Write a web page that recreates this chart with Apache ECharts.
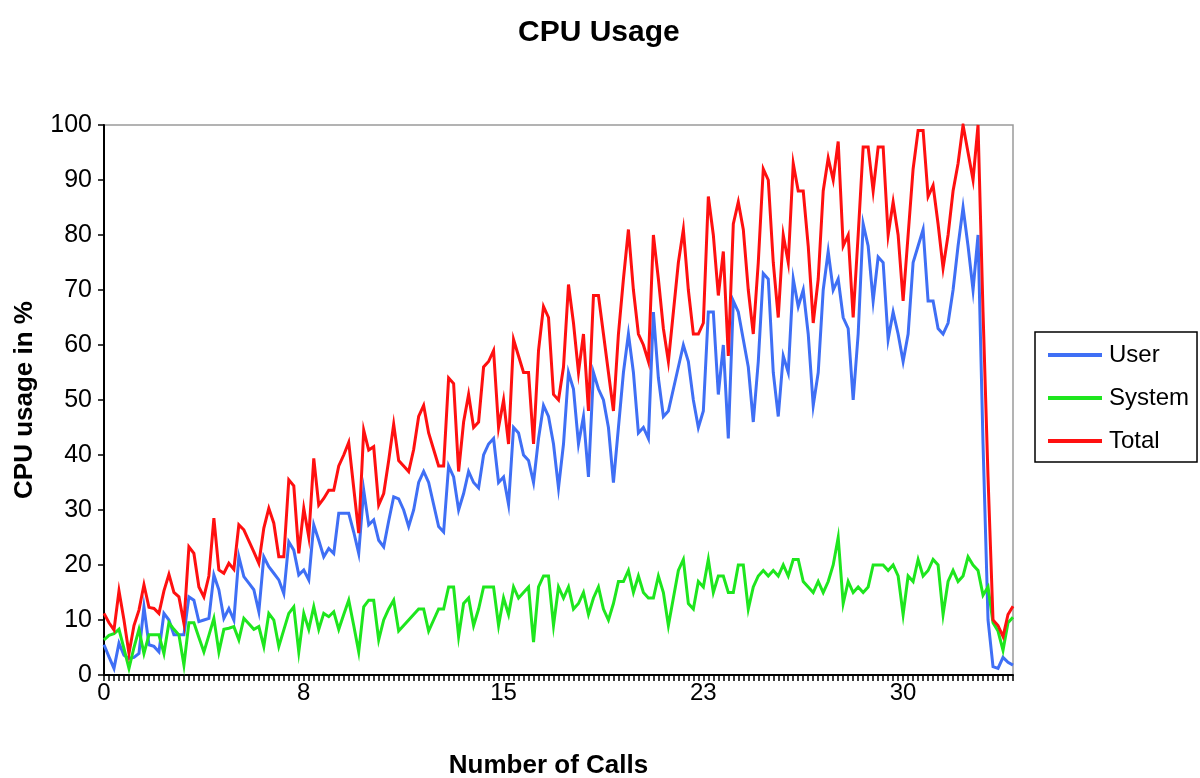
<!DOCTYPE html>
<html>
<head>
<meta charset="utf-8">
<title>CPU Usage</title>
<script src="https://cdn.jsdelivr.net/npm/echarts@6/dist/echarts.min.js"></script>
<style>
  html, body { margin: 0; padding: 0; background: #fff; }
  #chart { width: 1200px; height: 778px; }
</style>
</head>
<body>
<div id="chart"></div>
<script>
// One sample per category slot; labels are shown every 40th slot.
const xTickLabels = ['0', '8', '15', '23', '30'];
const labelStep = 40;

const userPct = [
  5.5, 3.3, 1.2, 5.8, 3.6, 3, 3.2, 3.9, 12.4, 5.5,
  5.2, 4.2, 11.2, 10, 7.3, 7.3, 7.3, 14.2, 13.6, 9.7,
  10, 10.3, 18.2, 15.5, 10.3, 12.1, 10, 21.5, 17.9, 16.7,
  15.5, 11.5, 21.5, 19.7, 18.5, 17.3, 14.8, 24.2, 22.7, 18.2,
  19.1, 17.3, 27.3, 24.5, 21.5, 23, 22.1, 29.4, 29.4, 29.4,
  26, 22.1, 33.6, 27.3, 28.2, 24.5, 23.3, 28, 32.4, 32,
  30, 27, 30, 35, 37, 35, 31, 27, 26, 38,
  36, 30, 33, 37, 35, 34, 40, 42, 43, 35,
  36, 31, 45, 44, 40, 39, 35, 43, 49, 47,
  42, 34, 42, 55, 52, 42, 47, 36, 55, 52,
  50, 45, 35, 45, 55, 62, 55, 44, 45, 43,
  66, 54, 47, 48, 52, 56, 60, 57, 50, 45,
  48, 66, 66, 51, 60, 43, 68, 66, 61, 56,
  46, 57, 73, 72, 55, 47, 58, 55, 72, 67,
  70, 62, 49, 55, 70, 77, 70, 72, 65, 63,
  50, 62, 82, 78, 68, 76, 75, 61, 66, 62,
  57, 62, 75, 78, 81, 68, 68, 63, 62, 64,
  70, 78, 85, 78, 70, 80, 42, 10, 1.5, 1.2,
  3.2, 2.3, 1.8
];

const systemPct = [
  6.4, 7.2, 7.5, 8.3, 4.8, 1.2, 5, 8.3, 3.9, 7.3,
  7.3, 7.3, 3.9, 9.5, 8.3, 7.3, 1.8, 9.5, 9.5, 6.8,
  4.2, 7.2, 10.3, 4.2, 8.3, 8.5, 8.8, 6.4, 10.3, 9.3,
  8.3, 8.8, 5.2, 11.2, 10, 5.2, 8.2, 11.2, 12.4, 4.2,
  11.2, 8.3, 12.4, 8.3, 11.2, 10.6, 11.5, 8.3, 11, 13.6,
  9, 4.2, 12.4, 13.6, 13.6, 6.4, 10, 12, 13.6, 8,
  9, 10, 11, 12, 12, 8, 10, 12, 12, 16,
  16, 7, 13, 14, 9, 12, 16, 16, 16, 9,
  14, 11, 16, 14, 15, 16, 6, 16, 18, 18,
  9, 16, 14, 16, 12, 13, 15, 11, 14, 16,
  12, 10, 13, 17, 17, 19, 15, 18, 15, 14,
  14, 18, 15, 9, 14, 19, 21, 13, 12, 17,
  16, 21, 15, 18, 18, 15, 15, 20, 20, 12,
  16, 18, 19, 18, 19, 18, 20, 18, 21, 21,
  17, 16, 15, 17, 15, 17, 20, 25, 13, 17,
  15, 16, 15, 16, 20, 20, 20, 19, 20, 18,
  11, 18, 17, 21, 18, 19, 21, 20, 11, 17,
  19, 17, 18, 21.5, 20, 19, 14.5, 16, 9.5, 8,
  4.5, 9.5, 10.5
];

const totalPct = [
  11.2, 9.5, 8.2, 15.3, 10, 3.9, 9, 11.8, 16.4, 12.3,
  12.1, 11.2, 15.3, 18.3, 15, 14.2, 9.4, 23.3, 22.1, 16,
  14.2, 18, 28.5, 19.1, 18.5, 20.3, 19.2, 27.3, 26.4, 24.4,
  22.4, 20.3, 26.7, 30.3, 27.6, 21.5, 21.5, 35.5, 34.4, 22.1,
  30.3, 25.1, 39.4, 30.9, 32.1, 33.6, 33.6, 38, 40, 42.3,
  34, 25.8, 44.5, 40.9, 41.5, 30.9, 33, 39, 45.6, 39,
  38, 37, 41, 47, 49, 44, 41, 38, 38, 54,
  53, 37, 46, 51, 45, 46, 56, 57, 59, 45,
  50, 42, 61, 58, 55, 55, 42, 59, 67, 65,
  51, 50, 56, 71, 64, 55, 62, 48, 69, 69,
  62, 55, 48, 62, 72, 81, 70, 62, 60, 57,
  80, 72, 63, 57, 66, 75, 81, 70, 62, 62,
  64, 87, 80, 69, 77, 58, 82, 86, 81, 70,
  62, 75, 92, 90, 75, 65, 80, 75, 93, 88,
  88, 78, 64, 72, 88, 94, 90, 97, 78, 80,
  65, 80, 96, 96, 88, 96, 96, 80, 86, 80,
  68, 80, 92, 99, 99, 87, 89, 82, 74, 80,
  88, 93, 100, 95, 90, 100, 66, 36, 10, 9,
  7, 11, 12.5
];

const categories = userPct.map((_, i) => String(i));

const FONT = '"Liberation Sans", Arial, sans-serif';

const chart = echarts.init(document.getElementById('chart'), null, { renderer: 'canvas' });

function lineSeries(name, data, color) {
  return {
    name: name,
    type: 'line',
    data: data,
    showSymbol: false,
    symbol: 'none',
    lineStyle: { color: color, width: 3, join: 'miter' },
    itemStyle: { color: color },
    emphasis: { disabled: true },
    animation: false
  };
}

chart.setOption({
  animation: false,
  backgroundColor: '#ffffff',
  textStyle: { fontFamily: FONT },
  title: {
    text: 'CPU Usage',
    left: 513,
    top: 13,
    textStyle: { fontFamily: FONT, fontSize: 30, fontWeight: 'bold', color: '#000' }
  },
  legend: {
    orient: 'vertical',
    left: 1035,
    top: 332,
    padding: [11, 8, 9, 13],
    itemGap: 19,
    itemWidth: 54,
    itemHeight: 4,
    icon: 'rect',
    borderColor: '#000',
    borderWidth: 1.5,
    textStyle: { fontFamily: FONT, fontSize: 24, color: '#000', padding: [0, 0, 0, 2] },
    data: ['User', 'System', 'Total']
  },
  grid: {
    left: 104,
    right: 187,
    top: 125,
    bottom: 103,
    show: true,
    borderColor: '#9a9a9a',
    borderWidth: 1.5,
    containLabel: false,
    outerBoundsMode: 'none'
  },
  xAxis: {
    type: 'category',
    data: categories,
    boundaryGap: false,
    name: 'Number of Calls',
    nameLocation: 'middle',
    nameGap: 78,
    nameTextStyle: { fontFamily: FONT, fontSize: 26, fontWeight: 'bold', color: '#000', padding: [0, 20, 0, 0] },
    axisLine: { show: true, onZero: false, lineStyle: { color: '#000', width: 2 } },
    axisTick: { show: true, interval: 0, length: 6, inside: false, lineStyle: { color: '#000', width: 1.5 } },
    axisLabel: {
      interval: (idx) => idx % labelStep === 0 && idx / labelStep < xTickLabels.length,
      formatter: (val, idx) => xTickLabels[Math.round(idx / labelStep)] || '',
      margin: 6,
      fontFamily: FONT,
      fontSize: 24,
      color: '#000'
    },
    splitLine: { show: false }
  },
  yAxis: {
    type: 'value',
    min: 0,
    max: 100,
    interval: 10,
    name: 'CPU usage in %',
    nameLocation: 'middle',
    nameRotate: 90,
    nameGap: 66,
    nameTextStyle: { fontFamily: FONT, fontSize: 26, fontWeight: 'bold', color: '#000' },
    axisLine: { show: true, lineStyle: { color: '#000', width: 2 } },
    axisTick: { show: true, length: 6, inside: false, lineStyle: { color: '#000', width: 1.5 } },
    axisLabel: { margin: 12, fontFamily: FONT, fontSize: 25, color: '#000' },
    splitLine: { show: false }
  },
  series: [
    lineSeries('User', userPct, '#3f6ff5'),
    lineSeries('System', systemPct, '#1ee61e'),
    lineSeries('Total', totalPct, '#ff1010')
  ]
});
</script>
</body>
</html>
